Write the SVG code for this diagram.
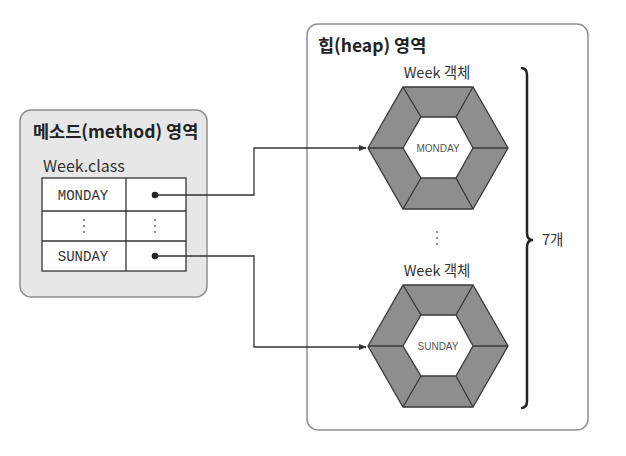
<svg xmlns="http://www.w3.org/2000/svg" width="626" height="456" viewBox="0 0 626 456">
<defs>
<style>
.area{stroke:#8f8f8f;stroke-width:1.5}
.title{font-family:"Noto Sans CJK KR","Noto Sans",sans-serif;font-size:17.5px;font-weight:bold;fill:#222}
.lbl{font-family:"Noto Sans CJK KR","Liberation Sans",sans-serif;font-size:14.5px;fill:#333}
.mono{font-family:"Liberation Mono","DejaVu Sans Mono",monospace;font-size:14px;fill:#333}
.cell{fill:#fff;stroke:#333;stroke-width:1.3}
.hexo{fill:#8e8e8e;stroke:#3a3a3a;stroke-width:1.3}
.hexi{fill:#fff;stroke:#3a3a3a;stroke-width:1.3}
.spoke{stroke:#3a3a3a;stroke-width:1.3}
.val{font-family:"Liberation Sans",sans-serif;font-size:10px;fill:#555;text-anchor:middle}
.conn{fill:none;stroke:#333;stroke-width:1.3}
</style>
<marker id="arr" viewBox="0 0 10 10" refX="9" refY="5" markerWidth="8" markerHeight="8" markerUnits="userSpaceOnUse" orient="auto">
<path d="M0,1 L10,5 L0,9 z" fill="#333"/>
</marker>
<g id="hex">
<polygon class="hexo" points="-70,0 -35,-61 35,-61 70,0 35,61 -35,61"/>
<polygon class="hexi" points="-35,0 -17,-31 18,-31 35,0 18,30 -17,30"/>
<path class="spoke" d="M-35,-61 L-17,-31 M35,-61 L18,-31 M-70,0 L-35,0 M70,0 L35,0 M-35,61 L-17,30 M35,61 L18,30"/>
</g>
</defs>
<rect width="626" height="456" fill="#fff"/>

<g id="method-area">
<rect class="area" x="20" y="110" width="187" height="187" rx="11" fill="#e7e7e7"/>
<text class="title" x="33" y="138">메소드(method) 영역</text>
<text class="lbl" x="43" y="172" style="font-size:16px">Week.class</text>
</g>

<g id="week-class-table">
<rect class="cell" x="42" y="178" width="144" height="93"/>
<line class="cell" x1="42" y1="211" x2="186" y2="211"/>
<line class="cell" x1="42" y1="241" x2="186" y2="241"/>
<line class="cell" x1="126" y1="178" x2="126" y2="271"/>
<text class="mono" x="83" y="200" text-anchor="middle">MONDAY</text>
<text class="mono" x="83" y="261" text-anchor="middle">SUNDAY</text>
<g fill="#555">
<circle cx="84" cy="220" r="0.9"/><circle cx="84" cy="226" r="0.9"/><circle cx="84" cy="232" r="0.9"/>
<circle cx="155" cy="220" r="0.9"/><circle cx="155" cy="226" r="0.9"/><circle cx="155" cy="232" r="0.9"/>
</g>
<circle cx="155" cy="195" r="3.3" fill="#222"/>
<circle cx="155" cy="256" r="3.3" fill="#222"/>
</g>

<g id="heap-area">
<rect class="area" x="307" y="24" width="281" height="406" rx="11" fill="#fff"/>
<text class="title" x="318" y="52">힙(heap) 영역</text>
</g>

<g id="monday-object">
<text class="lbl" x="437" y="78" text-anchor="middle">Week 객체</text>
<use href="#hex" x="438" y="148"/>
<text class="val" x="438" y="152">MONDAY</text>
</g>

<g id="sunday-object">
<text class="lbl" x="437" y="276" text-anchor="middle">Week 객체</text>
<use href="#hex" x="438" y="346"/>
<text class="val" x="438" y="350">SUNDAY</text>
</g>

<g id="ellipsis" fill="#555">
<circle cx="437" cy="232" r="0.9"/><circle cx="437" cy="238" r="0.9"/><circle cx="437" cy="244" r="0.9"/>
</g>

<g id="count-brace">
<path d="M521,68 Q527,68 527,75 L527,233 Q527,240 533,240 Q527,240 527,247 L527,401 Q527,408 521,408" fill="none" stroke="#222" stroke-width="2.5"/>
<text class="lbl" x="542" y="245">7개</text>
</g>

<g id="connectors">
<path class="conn" d="M155,195 H254 V148 H366" marker-end="url(#arr)"/>
<path class="conn" d="M155,256 H254 V347 H366" marker-end="url(#arr)"/>
</g>
</svg>
